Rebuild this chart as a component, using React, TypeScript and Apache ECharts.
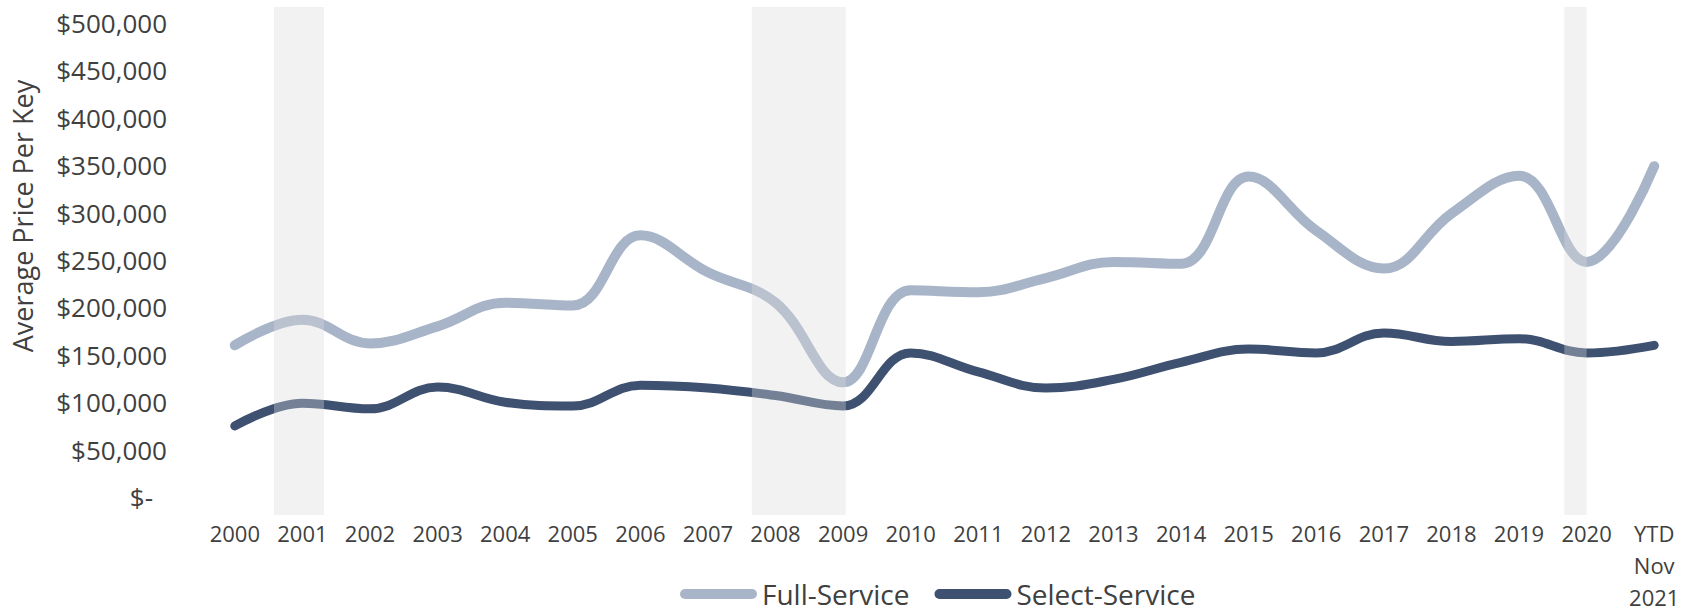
import React, { useEffect, useRef } from "react";
import * as echarts from "echarts";

const categories = [
  "2000", "2001", "2002", "2003", "2004", "2005", "2006", "2007", "2008", "2009", "2010",
  "2011", "2012", "2013", "2014", "2015", "2016", "2017", "2018", "2019", "2020", "YTD\nNov\n2021",
];
const fullService = [
  160000, 187000, 162000, 180000, 205000, 202000, 276000, 237000, 205000, 121000, 218000,
  216000, 231000, 248000, 246000, 338000, 281000, 241000, 299000, 339000, 248000, 349000,
];
const selectService = [
  75000, 99000, 93000, 116000, 100000, 96000, 118000, 115000, 107000, 96000, 152000,
  132000, 115000, 124000, 142000, 156000, 152000, 173000, 164000, 167000, 152000, 160000,
];
// recession shading, in category-index units
const recessionStart = [0.58, 7.65, 19.67];
const recessionEnd = [1.32, 9.04, 20.0];
const yTicks = { min: 0, max: 500000, interval: 50000 };

const FONT = "'Open Sans', 'Noto Sans', sans-serif";
const TEXT = "#404040";

export default function App() {
  const ref = useRef<HTMLDivElement>(null);
  useEffect(() => {
    if (!ref.current) return;
    const chart = echarts.init(ref.current, null, { renderer: "svg" });
    const recessions = recessionStart.map((s, i) => [s, recessionEnd[i]]);
    chart.setOption({
      animation: false,
      backgroundColor: "#ffffff",
      textStyle: { fontFamily: FONT },
      grid: [
        { left: 201, right: 4, top: 23, bottom: 116, containLabel: false },
        { left: 201, right: 4, top: 7, bottom: 98, containLabel: false },
      ],
      xAxis: [
        {
          type: "category",
          gridIndex: 0,
          data: categories,
          boundaryGap: true,
          axisLine: { show: false },
          axisTick: { show: false },
          splitLine: { show: false },
          axisLabel: {
            interval: 0,
            color: TEXT,
            fontSize: 22,
            fontFamily: FONT,
            lineHeight: 32,
            margin: 20,
          },
        },
        {
          type: "value",
          gridIndex: 1,
          min: -0.5,
          max: 21.5,
          show: false,
        },
      ],
      yAxis: [
        {
          type: "value",
          gridIndex: 0,
          min: yTicks.min,
          max: yTicks.max,
          interval: yTicks.interval,
          axisLine: { show: false },
          axisTick: { show: false },
          splitLine: { show: false },
          axisLabel: {
            color: TEXT,
            fontSize: 26,
            fontFamily: FONT,
            margin: 34,
            formatter: (v: number) =>
              v === 0 ? "{z|$-}" : "$" + v.toLocaleString("en-US"),
            rich: {
              z: { color: TEXT, fontSize: 26, fontFamily: FONT, padding: [0, 14, 0, 0] },
            },
          },
        },
        { type: "value", gridIndex: 1, min: 0, max: 1, show: false },
      ],
      legend: {
        left: 675,
        top: 574,
        itemWidth: 77,
        itemHeight: 11,
        itemGap: 25,
        textStyle: { color: TEXT, fontSize: 28, lineHeight: 30, fontFamily: FONT },
        data: [
          { name: "Full-Service", icon: "path://M5,0 H72 A5,5 0 0 1 72,10 H5 A5,5 0 0 1 5,0 Z" },
          { name: "Select-Service", icon: "path://M5,0 H72 A5,5 0 0 1 72,10 H5 A5,5 0 0 1 5,0 Z" },
        ],
      },
      graphic: [
        {
          type: "text",
          x: 22,
          y: 216,
          rotation: Math.PI / 2,
          style: {
            text: "Average Price Per Key",
            fill: TEXT,
            fontSize: 27,
            fontFamily: FONT,
            textAlign: "center",
            textVerticalAlign: "middle",
          },
        },
      ],
      series: [
        {
          name: "Full-Service",
          type: "line",
          xAxisIndex: 0,
          yAxisIndex: 0,
          data: fullService,
          smooth: 0.4,
          symbol: "none",
          z: 2,
          color: "#a8b5c8",
          lineStyle: { color: "#a8b5c8", width: 10, cap: "round", join: "round" },
        },
        {
          name: "Select-Service",
          type: "line",
          xAxisIndex: 0,
          yAxisIndex: 0,
          data: selectService,
          smooth: 0.4,
          symbol: "none",
          z: 3,
          color: "#3e5170",
          lineStyle: { color: "#3e5170", width: 9, cap: "round", join: "round" },
        },
        {
          name: "Recession",
          type: "custom",
          xAxisIndex: 1,
          yAxisIndex: 1,
          z: 10,
          silent: true,
          clip: false,
          data: recessions,
          encode: { x: [0, 1] },
          renderItem: (params: any, api: any) => {
            const a = api.coord([api.value(0), 1]);
            const b = api.coord([api.value(1), 0]);
            return {
              type: "rect",
              shape: { x: a[0], y: a[1], width: b[0] - a[0], height: b[1] - a[1] },
              style: { fill: "rgba(218,218,218,0.35)" },
            };
          },
        },
      ],
    });
    return () => chart.dispose();
  }, []);
  return (
    <div
      ref={ref}
      style={{ position: "absolute", left: 0, top: 0, width: 1692, height: 613 }}
    />
  );
}
